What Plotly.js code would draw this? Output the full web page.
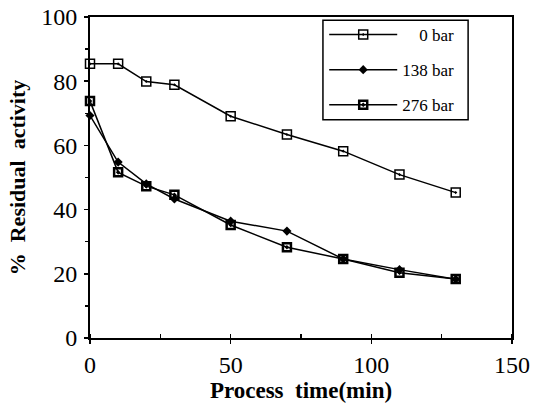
<!DOCTYPE html>
<html>
<head>
<meta charset="utf-8">
<script src="https://cdn.plot.ly/plotly-3.0.1.min.js"></script>
<style>html,body{margin:0;padding:0;background:#fff;}#chart{width:533px;height:407px;}</style>
</head>
<body>
<div id="chart"></div>
<script>
// Data
var time = [0, 10, 20, 30, 50, 70, 90, 110, 130];
var bar0 = [85.4, 85.4, 79.9, 78.9, 69.1, 63.4, 58.2, 50.9, 45.3];
var bar138 = [69.3, 54.8, 48.0, 43.3, 36.4, 33.3, 24.6, 21.3, 18.3];
var bar276 = [73.8, 51.6, 47.3, 44.6, 35.2, 28.3, 24.6, 20.3, 18.4];
var seriesNames = ["\u2007\u20070 bar", "138 bar", "276 bar"];
var xTicks = [0, 50, 100, 150];
var yTicks = [0, 20, 40, 60, 80, 100];

var serif = "Liberation Serif, Times New Roman, serif";
var lineStyle = {color: "#000", width: 1.5};

var traces = [
  {x: time, y: bar0, name: seriesNames[0], legendgroup: "a", mode: "lines+markers", cliponaxis: false,
   line: lineStyle, marker: {symbol: "square-open-dot", size: 9, color: "#000", line: {color: "#000", width: 1.5}}},
  {x: time, y: bar138, name: seriesNames[1], legendgroup: "b", mode: "lines+markers", cliponaxis: false,
   line: lineStyle, marker: {symbol: "diamond", size: 7, color: "#000"}},
  {x: time, y: bar276, name: seriesNames[2], legendgroup: "c", mode: "lines+markers", cliponaxis: false,
   line: lineStyle, marker: {symbol: "square-open-dot", size: 8, color: "#000", line: {color: "#000", width: 2.5}}}
];

var layout = {
  width: 533, height: 407,
  margin: {l: 90, r: 21, t: 17, b: 69},
  paper_bgcolor: "#fff", plot_bgcolor: "#fff",
  font: {family: serif, color: "#000"},
  xaxis: {
    range: [0, 150], tickvals: xTicks, ticktext: xTicks.map(String),
    showgrid: false, zeroline: false, showline: true, linecolor: "#000", linewidth: 2, mirror: true,
    ticks: "outside", ticklen: 4, tickcolor: "#000", tickwidth: 1.5,
    minor: {dtick: 25, ticks: "inside", ticklen: 4, tickcolor: "#000"},
    tickfont: {family: serif, size: 24, color: "#000"},
    ticklabelstandoff: 0,
    title: {text: "<b>Process  time(min)</b>", font: {family: serif, size: 23, color: "#000"}, standoff: 0}
  },
  yaxis: {
    range: [0, 100], tickvals: yTicks, ticktext: yTicks.map(String),
    showgrid: false, zeroline: false, showline: true, linecolor: "#000", linewidth: 2, mirror: true,
    ticks: "outside", ticklen: 4, tickcolor: "#000", tickwidth: 1.5,
    minor: {dtick: 10, ticks: "outside", ticklen: 3, tickcolor: "#000"},
    tickfont: {family: serif, size: 24, color: "#000"},
    ticklabelstandoff: 2,
    title: {text: "<b>%  Residual  activity</b>", font: {family: serif, size: 22, color: "#000"}, standoff: 10}
  },
  showlegend: true,
  legend: {
    x: 0.555, y: 1.0, xanchor: "left", yanchor: "top",
    bgcolor: "rgba(0,0,0,0)", borderwidth: 0,
    font: {family: serif, size: 17, color: "#000"},
    itemwidth: 68, tracegroupgap: 10, traceorder: "grouped"
  },
  shapes: [
    {type: "rect", xref: "paper", yref: "paper", x0: 0.552, x1: 0.896, y0: 0.68, y1: 0.99,
     line: {color: "#000", width: 1.5}, fillcolor: "rgba(0,0,0,0)", layer: "above"}
  ]
};

Plotly.newPlot("chart", traces, layout, {staticPlot: true, displayModeBar: false});
</script>
</body>
</html>
